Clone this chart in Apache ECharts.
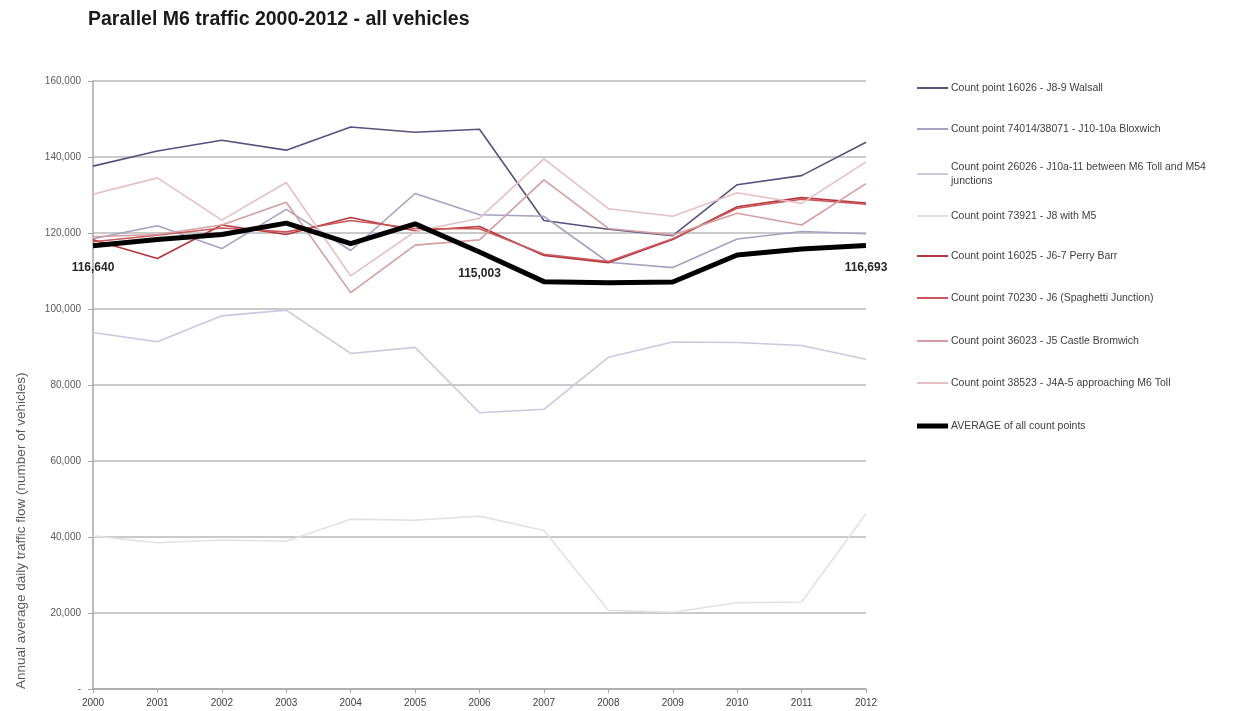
<!DOCTYPE html>
<html>
<head>
<meta charset="utf-8">
<title>Parallel M6 traffic 2000-2012</title>
<script src="https://cdn.jsdelivr.net/npm/echarts@6/dist/echarts.min.js"></script>
<style>
  html, body { margin: 0; padding: 0; background: #ffffff; }
  #chart { width: 1260px; height: 711px; }
</style>
</head>
<body>
<div id="chart"></div>
<script>
// Years on the category axis
const years = ['2000','2001','2002','2003','2004','2005','2006','2007','2008','2009','2010','2011','2012'];

// Annual average daily traffic flow per count point (vehicles)
const cp16026 = [137600, 141600, 144400, 141800, 147900, 146500, 147300, 123300, 121000, 119300, 132700, 135100, 143900];
const cp74014 = [118500, 121900, 115900, 126200, 115400, 130400, 124800, 124400, 112300, 110900, 118400, 120400, 119800];
const cp26026 = [93800, 91400, 98200, 99700, 88300, 89900, 72700, 73600, 87300, 91300, 91200, 90400, 86800];
const cp73921 = [40300, 38500, 39200, 38900, 44700, 44400, 45500, 41700, 20700, 20200, 22700, 22900, 46100];
const cp16025 = [118200, 113300, 122100, 119600, 124100, 120600, 121700, 114100, 112200, 118300, 126900, 129300, 127900];
const cp70230 = [117700, 119400, 121300, 120300, 123300, 121200, 121100, 114400, 112500, 118500, 126500, 128900, 127600];
const cp36023 = [119000, 119600, 122100, 128100, 104300, 116800, 118200, 134000, 121200, 119500, 125200, 122100, 133000];
const cp38523 = [130200, 134500, 123400, 133300, 108700, 120400, 123900, 139500, 126400, 124400, 130600, 127800, 138700];
const average = [116640, 118300, 119600, 122600, 117200, 122400, 115003, 107200, 106900, 107100, 114200, 115800, 116693];

// Years whose average value is written beside the line
const labelledYears = ['2000', '2006', '2012'];

// Legend names
const names = [
  'Count point 16026 - J8-9 Walsall',
  'Count point 74014/38071 - J10-10a Bloxwich',
  'Count point 26026 - J10a-11 between M6 Toll and M54 junctions',
  'Count point 73921 - J8 with M5',
  'Count point 16025 - J6-7 Perry Barr',
  'Count point 70230 - J6 (Spaghetti Junction)',
  'Count point 36023 - J5 Castle Bromwich',
  'Count point 38523 - J4A-5 approaching M6 Toll',
  'AVERAGE of all count points'
];
const seriesValues = [cp16026, cp74014, cp26026, cp73921, cp16025, cp70230, cp36023, cp38523, average];
const colors = ['#55527d', '#a6a1c0', '#ccc8de', '#e2e2e2', '#b7363d', '#c9575b', '#d59ea2', '#e6c1c4', '#000000'];
const widths = [1.6, 1.6, 1.6, 1.6, 1.6, 1.6, 1.6, 1.6, 5];

// Vertical positions of the legend rows
const legendTops = [81, 122, 160, 209, 249, 291, 334, 376, 419];

const fmt = v => v.toLocaleString('en-US');
const FONT = "'Liberation Sans', Arial, sans-serif";

const series = names.map((name, i) => {
  const isAvg = i === names.length - 1;
  const data = seriesValues[i].map((v, j) =>
    isAvg && labelledYears.includes(years[j])
      ? { value: v, label: { show: true } }
      : v);
  return {
    name: name,
    type: 'line',
    data: data,
    symbol: isAvg ? 'circle' : 'none',
    symbolSize: 0,
    showSymbol: isAvg,
    z: isAvg ? 5 : 2,
    lineStyle: { color: colors[i], width: widths[i] },
    itemStyle: { color: colors[i] },
    emphasis: { disabled: true },
    label: {
      show: false,
      position: 'bottom',
      distance: 16,
      formatter: p => fmt(p.value),
      fontFamily: FONT,
      fontSize: 12,
      fontWeight: 'bold',
      color: '#262626'
    }
  };
});

const legends = names.map((name, i) => ({
  data: [name],
  orient: 'vertical',
  left: 917,
  top: legendTops[i],
  padding: 0,
  icon: 'rect',
  itemWidth: 31,
  itemHeight: widths[i] < 3 ? 2 : 5,
  itemGap: 0,
  selectedMode: false,
  formatter: n => n.replace(' and M54 junctions', ' and M54\njunctions'),
  textStyle: { fontFamily: FONT, fontSize: 10.5, color: '#404040', lineHeight: 14, padding: [0, 0, 0, -2] }
}));

const chart = echarts.init(document.getElementById('chart'), null, { renderer: 'canvas' });
chart.setOption({
  animation: false,
  backgroundColor: '#ffffff',
  title: {
    text: 'Parallel M6 traffic 2000-2012 - all vehicles',
    left: 83,
    top: 5,
    textStyle: { fontFamily: FONT, fontSize: 19.5, fontWeight: 'bold', color: '#1a1a1a' }
  },
  legend: legends,
  grid: { left: 93, right: 394, top: 81, bottom: 22, containLabel: false },
  xAxis: {
    type: 'category',
    data: years,
    boundaryGap: false,
    axisLine: { lineStyle: { color: '#a6a6a6', width: 1.5 } },
    axisTick: { show: true, length: 4, lineStyle: { color: '#a6a6a6' } },
    axisLabel: { margin: 9, fontFamily: FONT, fontSize: 10, color: '#404040' },
    splitLine: { show: false }
  },
  yAxis: {
    type: 'value',
    min: 0,
    max: 160000,
    interval: 20000,
    axisLine: { show: true, lineStyle: { color: '#a6a6a6', width: 1.5 } },
    axisTick: { show: true, length: 5, lineStyle: { color: '#a6a6a6' } },
    axisLabel: {
      margin: 12,
      fontFamily: FONT,
      fontSize: 10,
      color: '#595959',
      formatter: v => (v === 0 ? '-' : fmt(v))
    },
    splitLine: { show: true, lineStyle: { color: '#b8b8b8', width: 1.6 } }
  },
  graphic: [{
    type: 'text',
    x: 21,
    y: 689,
    rotation: Math.PI / 2,
    style: {
      text: 'Annual average daily traffic flow (number of vehicles)',
      align: 'left',
      verticalAlign: 'middle',
      fontFamily: FONT,
      fontSize: 13.5,
      fill: '#595959'
    }
  }],
  series: series
});
</script>
</body>
</html>
